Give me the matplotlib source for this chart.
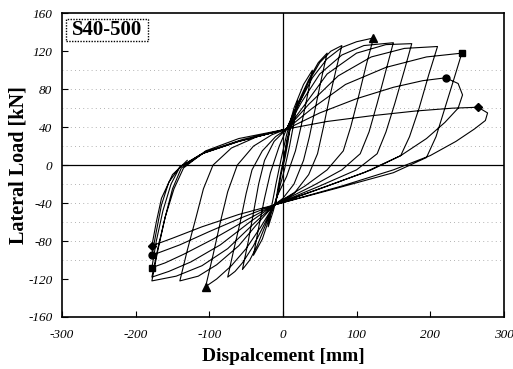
import matplotlib
matplotlib.use("Agg")
import matplotlib.pyplot as plt
from matplotlib.patches import Rectangle

# ---- data (displacement [mm], lateral load [kN]) ----
c1_x = [0, 5, 10, 7, 3, -2, -6, -10, -7, -3, 2, 6]
c1_y = [0, 25, 42, 25, 8, -8, -25, -40, -25, -8, 10, 26]
c2_x = [6, 14, 20, 15, 9, 2, -6, -13, -20, -15, -9, -2, 5]
c2_y = [26, 50, 68, 45, 20, -5, -28, -48, -65, -42, -18, 8, 32]
c3_x = [5, 15, 28, 40, 33, 25, 17, 5, -8, -18, -28, -40, -33, -25, -17, -5, 5]
c3_y = [32, 60, 85, 100, 72, 42, 15, -12, -33, -55, -78, -95, -66, -35, -8, 20, 38]
c4_x = [5, 20, 35, 48, 60, 52, 44, 36, 28, 15, 0, -12, -22, -35, -45, -55, -47, -40, -33, -25, -12, 5]
c4_y = [38, 65, 90, 108, 118, 90, 60, 30, 5, -20, -35, -42, -60, -85, -100, -110, -80, -50, -20, 5, 25, 38]
c5_x = [5, 20, 35, 50, 65, 80, 72, 63, 55, 47, 35, 15, -12, -25, -40, -55, -65, -75, -67, -58, -50, -42, -28, -10, 5]
c5_y = [38, 62, 88, 108, 120, 126, 100, 70, 40, 12, -10, -30, -42, -62, -85, -103, -112, -118, -90, -60, -30, -5, 15, 30, 38]
c6_x = [5, 20, 40, 60, 80, 100, 123, 113, 102, 92, 82, 60, 30, -12, -30, -50, -70, -90, -105, -95, -85, -75, -62, -40, -15, 5]
c6_y = [38, 62, 92, 112, 124, 130, 134, 105, 70, 40, 15, -5, -22, -42, -65, -88, -106, -120, -128, -95, -60, -28, 0, 20, 32, 38]
c7_x = [5, 25, 50, 80, 110, 150, 140, 128, 117, 105, 80, 40, -12, -35, -60, -90, -115, -140, -130, -118, -108, -95, -70, -35, 5]
c7_y = [38, 66, 96, 116, 126, 129, 100, 65, 35, 12, -5, -22, -42, -62, -85, -105, -117, -122, -90, -55, -25, 0, 18, 30, 38]
c8_x = [5, 30, 60, 100, 140, 175, 165, 152, 140, 128, 100, 50, -12, -40, -75, -110, -145, -178, -170, -160, -148, -135, -105, -60, 5]
c8_y = [38, 64, 96, 118, 127, 128, 100, 65, 35, 12, -5, -22, -42, -62, -88, -106, -117, -122, -90, -55, -25, -3, 15, 28, 38]
c9_x = [5, 35, 75, 120, 165, 210, 198, 185, 172, 160, 120, 60, -12, -45, -85, -125, -155, -178, -170, -160, -150, -138, -105, -55, 5]
c9_y = [38, 64, 94, 114, 123, 125, 95, 60, 30, 10, -5, -22, -42, -60, -84, -102, -112, -118, -88, -55, -25, -3, 14, 27, 38]
c10_x = [5, 40, 85, 140, 195, 243, 232, 220, 208, 195, 150, 70, -12, -50, -95, -135, -160, -178, -172, -163, -152, -140, -110, -60, 5]
c10_y = [38, 60, 85, 103, 114, 118, 90, 60, 30, 8, -8, -25, -42, -58, -78, -94, -103, -108, -80, -48, -20, -2, 12, 25, 38]
c11_x = [5, 50, 100, 150, 190, 221, 238, 244, 238, 220, 195, 160, 110, 50, -12, -55, -100, -140, -178, -172, -165, -155, -140, -110, -60, 5]
c11_y = [38, 55, 70, 82, 89, 92, 86, 74, 60, 45, 28, 10, -8, -25, -42, -55, -70, -84, -95, -70, -42, -18, -2, 12, 25, 38]
c12_x = [5, 60, 120, 180, 230, 265, 278, 275, 260, 235, 200, 150, 80, -12, -60, -110, -150, -178, -172, -165, -150, -130]
c12_y = [38, 46, 52, 57, 60, 61, 55, 47, 38, 25, 10, -5, -22, -42, -52, -65, -77, -85, -60, -35, -10, 5]

# peak markers (+ side, - side)
tri_x, tri_y = [123, -105], [134, -128]
sq_x, sq_y = [243, -178], [118, -108]
cir_x, cir_y = [221, -178], [92, -95]
dia_x, dia_y = [265, -178], [61, -85]

x_ticks = [-300, -200, -100, 0, 100, 200, 300]
y_ticks = [-160, -120, -80, -40, 0, 40, 80, 120, 160]
grid_levels = [-100, -80, -60, -40, -20, 20, 40, 60, 80, 100]

plt.rcParams['font.family'] = ['Liberation Serif', 'DejaVu Serif']
plt.rcParams['axes.unicode_minus'] = False

fig = plt.figure(figsize=(5.13, 3.69), dpi=100)
ax = fig.add_axes([0.121, 0.141, 0.861, 0.823])

for g in grid_levels:
    ax.axhline(g, color='#9a9a9a', lw=0.6, ls=(0, (1, 4)), zorder=0)
ax.axhline(0, color='black', lw=0.9, zorder=1)
ax.axvline(0, color='black', lw=0.9, zorder=1)

X = c1_x + c2_x + c3_x + c4_x + c5_x + c6_x + c7_x + c8_x + c9_x + c10_x + c11_x + c12_x
Y = c1_y + c2_y + c3_y + c4_y + c5_y + c6_y + c7_y + c8_y + c9_y + c10_y + c11_y + c12_y
ax.plot(X, Y, color='black', lw=0.8, zorder=2)

ax.plot(tri_x, tri_y, ls='none', marker='^', ms=5.5, color='black', zorder=3)
ax.plot(sq_x, sq_y, ls='none', marker='s', ms=5, color='black', zorder=3)
ax.plot(cir_x, cir_y, ls='none', marker='o', ms=5, color='black', zorder=3)
ax.plot(dia_x, dia_y, ls='none', marker='D', ms=4.5, color='black', zorder=3)

ax.set_xlim(-300, 300)
ax.set_ylim(-160, 160)
ax.set_xticks(x_ticks)
ax.set_yticks(y_ticks)
ax.tick_params(direction='in', length=4, width=0.8, labelsize=9.5)
ax.tick_params(axis='x', pad=9)
ax.tick_params(axis='y', pad=7)
for lab in ax.get_xticklabels() + ax.get_yticklabels():
    lab.set_fontstyle('italic')
for s in ax.spines.values():
    s.set_linewidth(1.2)

ax.set_xlabel('Dispalcement [mm]', fontsize=14, fontweight='bold', labelpad=5)
ax.set_ylabel('Lateral Load [kN]', fontsize=14.5, fontweight='bold', labelpad=-0.5)

ax.add_patch(Rectangle((0.008, 0.908), 0.187, 0.072, transform=ax.transAxes,
                       fc='white', ec='black', lw=1.0, ls=(0, (1, 1)), zorder=4))
ax.text(0.101, 0.945, 'S40-500', transform=ax.transAxes, fontsize=15,
        fontweight='bold', ha='center', va='center', zorder=5)

fig.savefig('out.png', dpi=100)
